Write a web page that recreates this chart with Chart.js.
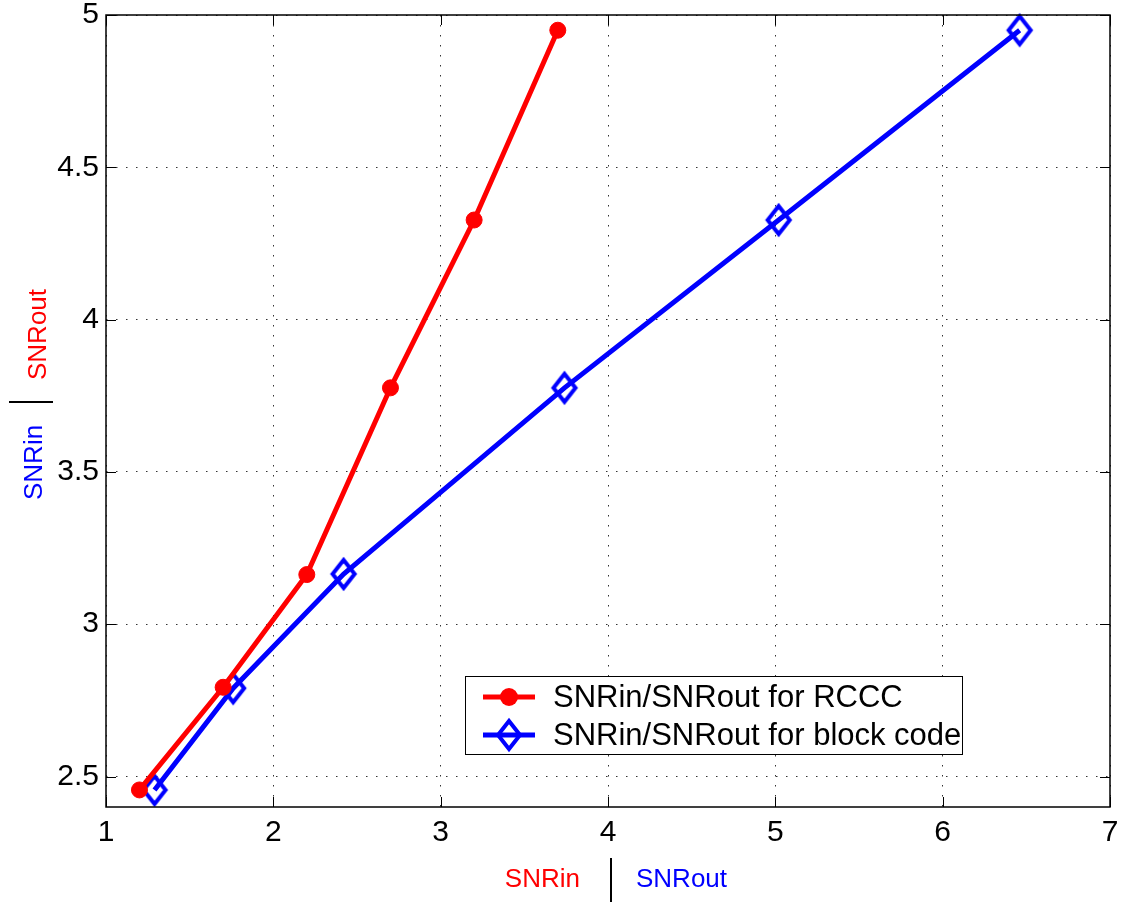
<!DOCTYPE html>
<html>
<head>
<meta charset="utf-8">
<script src="https://cdn.jsdelivr.net/npm/chart.js@4"></script>
<style>
  html, body { margin: 0; padding: 0; background: #fff; }
  #wrap { width: 1123px; height: 903px; position: relative; }
</style>
</head>
<body>
<div id="wrap"><canvas id="chart"></canvas></div>
<script>
// values
const xRccc = [1.20, 1.70, 2.20, 2.70, 3.20, 3.70];
const yRccc = [2.456, 2.793, 3.163, 3.776, 4.327, 4.95];
const xBlock = [1.29, 1.76, 2.42, 3.74, 5.02, 6.46];
const yBlock = [2.456, 2.79, 3.165, 3.776, 4.327, 4.95];
const seriesNames = ['SNRin/SNRout for RCCC', 'SNRin/SNRout for block code'];
const xTicks = [1, 2, 3, 4, 5, 6, 7];
const yTicks = [2.5, 3, 3.5, 4, 4.5, 5];

const FONT = '"Liberation Sans", Arial, Helvetica, sans-serif';
const RED = '#ff0000';
const BLUE = '#0000ff';

// hollow diamond marker like matlab's 'd'
function makeDiamond() {
    const c = document.createElement('canvas');
    c.width = 30;
    c.height = 36;
    const g = c.getContext('2d');
    g.strokeStyle = BLUE;
    g.lineWidth = 4;
    g.lineJoin = 'miter';
    g.beginPath();
    g.moveTo(15, 4);
    g.lineTo(26, 18);
    g.lineTo(15, 32);
    g.lineTo(4, 18);
    g.closePath();
    g.stroke();
    return c;
}
const diamond = makeDiamond();

const frame = {
    id: 'frame',
    afterDraw(chart) {
        const ctx = chart.ctx;
        const a = chart.chartArea;
        const xs = chart.scales.x;
        const ys = chart.scales.y;
        ctx.save();

        // box
        ctx.strokeStyle = '#000';
        ctx.lineWidth = 1.5;
        ctx.strokeRect(a.left, a.top, a.right - a.left, a.bottom - a.top);

        // inward ticks on all sides
        ctx.lineWidth = 1;
        const tl = 10;
        ctx.beginPath();
        xTicks.forEach(v => {
            const px = Math.round(xs.getPixelForValue(v)) + 0.5;
            ctx.moveTo(px, a.bottom); ctx.lineTo(px, a.bottom - tl);
            ctx.moveTo(px, a.top); ctx.lineTo(px, a.top + tl);
        });
        yTicks.forEach(v => {
            const py = Math.round(ys.getPixelForValue(v)) + 0.5;
            ctx.moveTo(a.left, py); ctx.lineTo(a.left + tl, py);
            ctx.moveTo(a.right, py); ctx.lineTo(a.right - tl, py);
        });
        ctx.stroke();

        // legend
        const lx = 465, ly = 676, lw = 497, lh = 78;
        ctx.fillStyle = '#fff';
        ctx.fillRect(lx, ly, lw, lh);
        ctx.strokeStyle = '#000';
        ctx.lineWidth = 1;
        ctx.strokeRect(lx + 0.5, ly + 0.5, lw, lh);
        const rows = [697, 735];
        ctx.lineWidth = 5;
        ctx.strokeStyle = RED;
        ctx.beginPath(); ctx.moveTo(483, rows[0]); ctx.lineTo(535, rows[0]); ctx.stroke();
        ctx.fillStyle = RED;
        ctx.beginPath(); ctx.arc(509, rows[0], 9, 0, Math.PI * 2); ctx.fill();
        ctx.strokeStyle = BLUE;
        ctx.beginPath(); ctx.moveTo(483, rows[1]); ctx.lineTo(535, rows[1]); ctx.stroke();
        ctx.drawImage(diamond, 509 - diamond.width / 2, rows[1] - diamond.height / 2);
        ctx.fillStyle = '#000';
        ctx.font = '31px ' + FONT;
        ctx.textBaseline = 'middle';
        ctx.textAlign = 'left';
        ctx.fillText(seriesNames[0], 553, rows[0] + 1);
        ctx.fillText(seriesNames[1], 553, rows[1] + 1);

        // x axis title
        ctx.font = '26px ' + FONT;
        ctx.textBaseline = 'alphabetic';
        ctx.textAlign = 'right';
        ctx.fillStyle = RED;
        ctx.fillText('SNRin', 580, 887);
        ctx.textAlign = 'left';
        ctx.fillStyle = BLUE;
        ctx.fillText('SNRout', 636, 887);
        ctx.fillStyle = '#000';
        ctx.fillRect(610, 858, 2, 44);

        // y axis title
        ctx.fillRect(9, 401, 44, 2);
        ctx.save();
        ctx.translate(42, 500);
        ctx.rotate(-Math.PI / 2);
        ctx.fillStyle = BLUE;
        ctx.fillText('SNRin', 0, 0);
        ctx.restore();
        ctx.save();
        ctx.translate(46, 380);
        ctx.rotate(-Math.PI / 2);
        ctx.fillStyle = RED;
        ctx.fillText('SNRout', 0, 0);
        ctx.restore();

        ctx.restore();
    }
};

new Chart(document.getElementById('chart'), {
    type: 'scatter',
    data: {
        datasets: [{
            label: seriesNames[0],
            data: xRccc.map((x, i) => ({ x: x, y: yRccc[i] })),
            showLine: true,
            borderColor: RED,
            backgroundColor: RED,
            borderWidth: 5,
            pointRadius: 8,
            pointBorderWidth: 1,
            pointBackgroundColor: RED,
            pointBorderColor: RED,
            clip: false
        }, {
            label: seriesNames[1],
            data: xBlock.map((x, i) => ({ x: x, y: yBlock[i] })),
            showLine: true,
            borderColor: BLUE,
            backgroundColor: BLUE,
            borderWidth: 5,
            pointStyle: diamond,
            pointRadius: 12,
            clip: false
        }]
    },
    options: {
        responsive: true,
        maintainAspectRatio: false,
        animation: false,
        layout: { autoPadding: false, padding: { top: 15, right: 13, left: 0, bottom: 0 } },
        plugins: {
            legend: { display: false },
            tooltip: { enabled: false }
        },
        scales: {
            x: {
                type: 'linear',
                min: 1,
                max: 7,
                afterFit: s => {
                    s.height = 96;
                    s.paddingLeft = 0;
                    s.paddingRight = 0;
                },
                ticks: {
                    stepSize: 1,
                    color: '#000',
                    padding: 8,
                    font: { family: FONT, size: 30 }
                },
                grid: { color: '#333', lineWidth: 1, drawTicks: false },
                border: { display: false, dash: [1.5, 8.5] }
            },
            y: {
                type: 'linear',
                min: 2.4,
                max: 5,
                afterFit: s => {
                    s.width = 106;
                    s.paddingTop = 0;
                    s.paddingBottom = 0;
                },
                ticks: {
                    stepSize: 0.5,
                    includeBounds: false,
                    color: '#000',
                    padding: 7,
                    font: { family: FONT, size: 30 },
                    callback: v => String(v)
                },
                grid: { color: '#333', lineWidth: 1, drawTicks: false },
                border: { display: false, dash: [1.5, 8.5] }
            }
        }
    },
    plugins: [frame]
});
</script>
</body>
</html>
